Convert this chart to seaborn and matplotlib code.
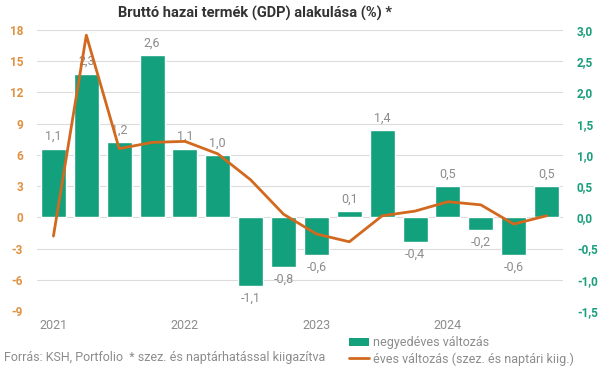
import numpy as np
import seaborn as sns
import matplotlib.pyplot as plt
from matplotlib.patches import Patch
from matplotlib.lines import Line2D

# negyedéves (q/q, jobb tengely) és éves (y/y, bal tengely) GDP változás, 2021Q1-2024Q4
quarters = [f'{y}Q{q}' for y in range(2021, 2025) for q in range(1, 5)]
quarterly = [1.1, 2.3, 1.2, 2.6, 1.1, 1.0, -1.1, -0.8, -0.6, 0.1, 1.4, -0.4, 0.5, -0.2, -0.6, 0.5]
annual = [-1.8, 17.5, 6.6, 7.2, 7.3, 6.1, 3.6, 0.3, -1.6, -2.35, 0.15, 0.6, 1.5, 1.2, -0.65, 0.15]
year_labels = ['2021', '2022', '2023', '2024']
left_ticks = [-9, -6, -3, 0, 3, 6, 9, 12, 15, 18]
right_ticks = [-1.5, -1.0, -0.5, 0.0, 0.5, 1.0, 1.5, 2.0, 2.5, 3.0]

bar_color = '#13a07c'
line_color = '#d2691e'
gray = '#8c8c8c'

sns.set_style('white')
plt.rcParams['font.family'] = ['Roboto', 'DejaVu Sans']

fig = plt.figure(figsize=(6, 3.68), dpi=100)
ax = fig.add_axes([37/600, 1 - 311/368, 526/600, 281/368])
ax2 = ax.twinx()

pos = np.arange(len(quarters))
sns.barplot(x=pos, y=quarterly, ax=ax, color=bar_color, saturation=1, width=0.76, zorder=2)
sns.lineplot(x=pos, y=annual, ax=ax2, color=line_color, linewidth=2)

ax.set_ylim(-1.5, 3.0)
ax.set_xlim(-0.5, 15.5)
ax2.set_ylim(-9, 18)

# bar labels
for i, v in enumerate(quarterly):
    txt = f'{v:.1f}'.replace('.', ',')
    if v >= 0:
        ax.annotate(txt, (i, v), xytext=(0, 4), textcoords='offset points',
                    ha='center', va='bottom', color=gray, fontsize=9)
    else:
        ax.annotate(txt, (i, v), xytext=(0, -4), textcoords='offset points',
                    ha='center', va='top', color=gray, fontsize=9)

# right axis: quarterly
ax.set_yticks(right_ticks)
ax.set_yticklabels([f'{t:.1f}'.replace('.', ',') for t in right_ticks],
                   color='#1a9e7d', fontweight='bold', fontsize=8.5)
ax.yaxis.tick_right()
ax.tick_params(axis='y', length=0, pad=10)
ax.yaxis.grid(True, color='#dcdcdc', linewidth=0.8, zorder=0)
ax.set_axisbelow(True)

ax.set_xticks([0, 4, 8, 12])
ax.set_xticklabels(year_labels, color=gray, fontsize=9)
ax.tick_params(axis='x', length=0, pad=6)
ax.set_xlabel('')
ax.set_ylabel('')

# left axis: annual
ax2.set_yticks(left_ticks)
ax2.set_yticklabels([str(t) for t in left_ticks], color='#e0913f', fontweight='bold', fontsize=8.5)
ax2.yaxis.tick_left()
ax2.tick_params(axis='y', length=0, pad=10)
ax2.set_ylabel('')

for a in (ax, ax2):
    for s in a.spines.values():
        s.set_visible(False)

fig.text(255/600, 1 - 13/368, 'Bruttó hazai termék (GDP) alakulása (%) *',
         ha='center', va='center', fontsize=10.5, fontweight='bold', color='#333333')
fig.text(4/600, 1 - 358/368, 'Forrás: KSH, Portfolio  * szez. és naptárhatással kiigazítva',
         ha='left', va='center', fontsize=9, color=gray)

handles = [Patch(facecolor=bar_color, edgecolor='none'),
           Line2D([0], [0], color=line_color, linewidth=2)]
fig.legend(handles, ['negyedéves változás', 'éves változás (szez. és naptári kiig.)'],
           loc='upper left', bbox_to_anchor=(349/600, 1 - 336/368), frameon=False,
           fontsize=9, labelcolor=gray, handlelength=1.6, handleheight=0.6,
           handletextpad=0.3, labelspacing=0.25, borderpad=0, borderaxespad=0)

fig.savefig('out.png', dpi=100)
